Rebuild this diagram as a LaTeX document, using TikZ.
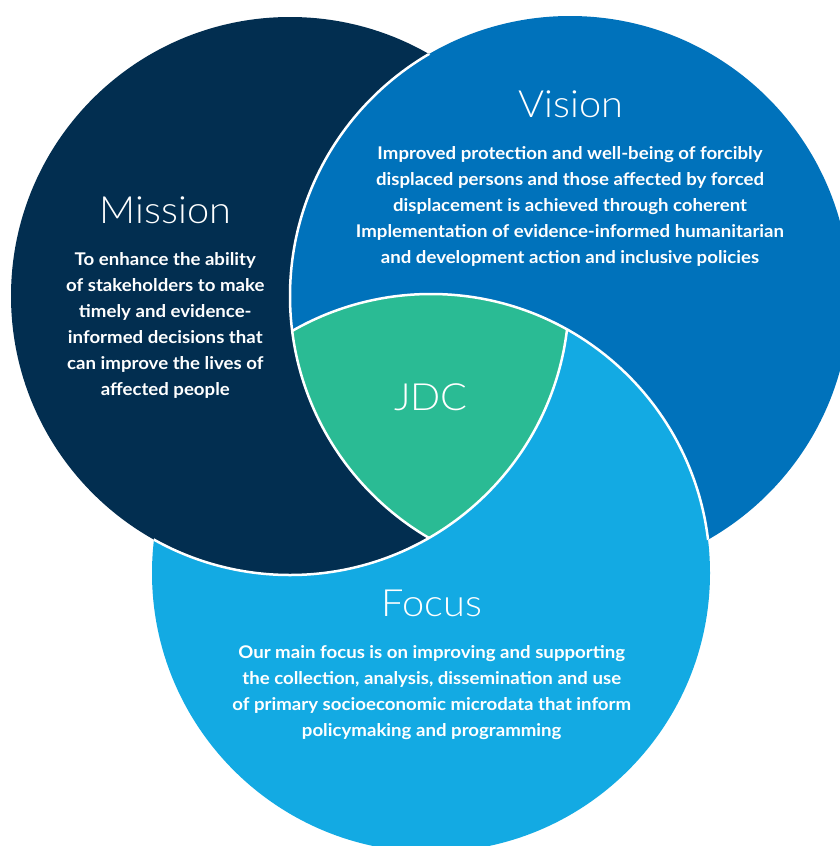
\documentclass[tikz,border=0pt]{standalone}
\usepackage{fontspec}
\setmainfont{Lato}
\newfontfamily\headfont{Lato Light}[FakeStretch=1.06]
\newfontfamily\bodyfont{Lato}[FakeStretch=1.065]

\definecolor{missionnavy}{HTML}{022E50}
\definecolor{visionblue}{HTML}{0072BB}
\definecolor{focusblue}{HTML}{13AAE3}
\definecolor{jdcgreen}{HTML}{2ABB94}

\begin{document}
\begin{tikzpicture}[x=1pt,y=-1pt,
  ring/.style={draw=white, line width=2.5pt},
  headtext/.style={text=white, anchor=base, inner sep=0pt,
    font=\headfont\fontsize{37.5}{40}\selectfont},
  bodytext/.style={text=white, anchor=base, inner sep=0pt, align=center,
    font=\bodyfont\bfseries\fontsize{17.5}{26}\selectfont}]
\useasboundingbox (0,0) rectangle (840,846);
\fill[white] (0,0) rectangle (840,846);
\clip (0,0) rectangle (840,846);

% circle centres
\coordinate (M) at (290,296);
\coordinate (V) at (570,296);
\coordinate (F) at (431,573);
\def\rM{279pt}
\def\rV{280pt}
\def\rF{279pt}

% focus first, mission over it, vision over mission but under focus
\fill[focusblue] (F) circle[radius=\rF];
\fill[missionnavy] (M) circle[radius=\rM];
\begin{scope}
  % everything outside the focus disc
  \clip (-10,-10) -- (850,-10) -- (850,856) -- (-10,856) -- cycle
        (F) circle[radius=\rF];
  \fill[visionblue] (V) circle[radius=\rV];
\end{scope}
% the common core
\begin{scope}
  \clip (M) circle[radius=\rM];
  \clip (V) circle[radius=\rV];
  \fill[jdcgreen] (F) circle[radius=\rF];
\end{scope}

% white separating arcs
\begin{scope}
  \clip (M) circle[radius=\rM];
  \draw[ring] (V) circle[radius=\rV];
\end{scope}
\begin{scope}
  \clip (V) circle[radius=\rV];
  \draw[ring] (F) circle[radius=\rF];
\end{scope}
\begin{scope}
  \clip (F) circle[radius=\rF];
  \draw[ring] (M) circle[radius=\rM];
\end{scope}

% labels (a multi-line node sits on the baseline of its last line)
\node[headtext] (missionhead) at (165.5,223) {Mission};
\node[bodytext] (missionbody) at (165.3,395) {To enhance the ability\\of stakeholders to make\\timely and evidence-\\informed decisions that\\can improve the lives of\\affected people};

\node[headtext] (visionhead) at (570.8,117.7) {Vision};
\node[bodytext] (visionbody) at (570,263.3) {Improved protection and well-being of forcibly\\displaced persons and those affected by forced\\displacement is achieved through coherent\\Implementation of evidence-informed humanitarian\\and development action and inclusive policies};

\node[headtext] (jdchead) at (430.8,410.7) {JDC};

\node[headtext] (focushead) at (431.7,616.7) {Focus};
\node[bodytext] (focusbody) at (431.7,736.3) {Our main focus is on improving and supporting\\the collection, analysis, dissemination and use\\of primary socioeconomic microdata that inform\\policymaking and programming};
\end{tikzpicture}
\end{document}
